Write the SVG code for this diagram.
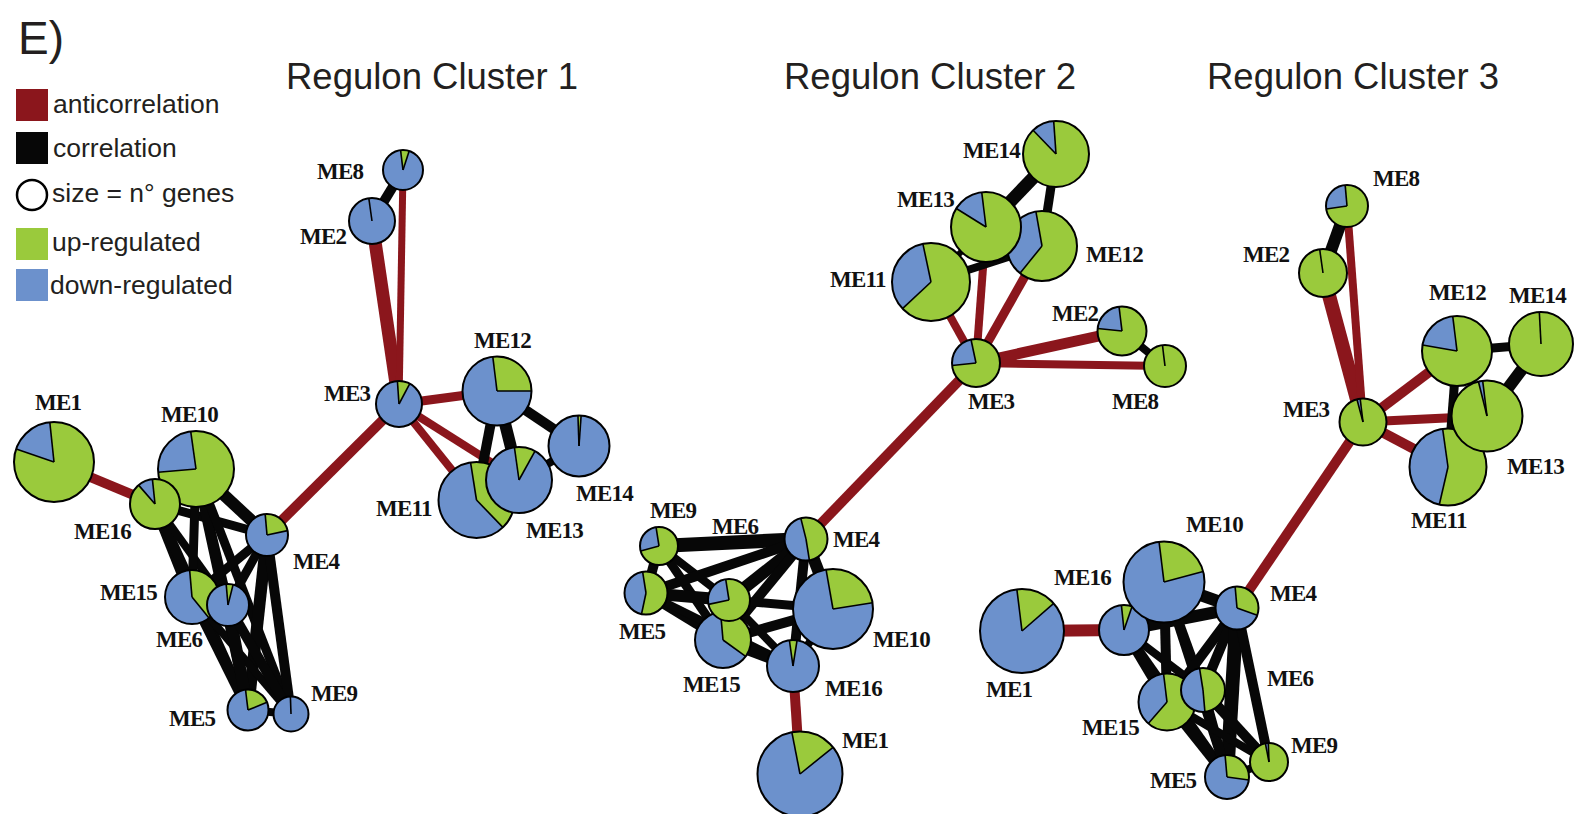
<svg xmlns="http://www.w3.org/2000/svg" width="1576" height="814" viewBox="0 0 1576 814">
<style>
.bg{fill:#fff}
.up{fill:#9ACA3C}
.dn{fill:#6C91CC}
.sl{fill:none}
.sl.up{stroke:#9ACA3C}
.sl.dn{stroke:#6C91CC}
.rad{fill:none;stroke:#000;stroke-width:1.6}
.rim{fill:none;stroke:#000;stroke-width:2}
.neg{stroke:#8B161C;stroke-linecap:butt}
.pos{stroke:#070707;stroke-linecap:butt}
.lbl{font-family:"Liberation Serif","Times New Roman",serif;font-weight:bold;font-size:23px;letter-spacing:-0.8px;fill:#111}
.ttl{font-family:"Liberation Sans",Arial,sans-serif;font-size:36.5px;fill:#231F20}
.leg{font-family:"Liberation Sans",Arial,sans-serif;font-size:26.5px;fill:#231F20}
</style>
<rect class="bg" width="1576" height="814"/>

<!-- panel letter, titles and legend -->
<g id="header">
<text x="18" y="54" style="font-family:'Liberation Sans',Arial,sans-serif;font-size:46px;fill:#231F20">E)</text>
<text class="ttl" x="286" y="89">Regulon Cluster 1</text>
<text class="ttl" x="784" y="89">Regulon Cluster 2</text>
<text class="ttl" x="1207" y="89">Regulon Cluster 3</text>
</g>
<g id="legend">
<rect x="16" y="89" width="32" height="32" fill="#8B161C"/>
<text class="leg" x="53" y="113">anticorrelation</text>
<rect x="16" y="132" width="32" height="32" fill="#070707"/>
<text class="leg" x="53" y="157">correlation</text>
<circle cx="32" cy="195" r="15" fill="none" stroke="#000" stroke-width="2.5"/>
<text class="leg" x="52" y="202">size = n° genes</text>
<rect x="16" y="228" width="32" height="32" class="up"/>
<text class="leg" x="52" y="251">up-regulated</text>
<rect x="16" y="269" width="32" height="32" class="dn"/>
<text class="leg" x="50" y="294">down-regulated</text>
</g>

<!-- connectors: red = anticorrelation, black = correlation -->
<g id="connectors">
<!-- cluster 1 -->
<line class="neg" x1="54" y1="462" x2="155" y2="504" stroke-width="10"/>
<line class="neg" x1="399" y1="404" x2="267" y2="535" stroke-width="10"/>
<line class="neg" x1="399" y1="404" x2="372" y2="221" stroke-width="13"/>
<line class="neg" x1="399" y1="404" x2="403" y2="170" stroke-width="7"/>
<line class="neg" x1="399" y1="404" x2="497" y2="391" stroke-width="9"/>
<line class="neg" x1="399" y1="404" x2="476" y2="500" stroke-width="8"/>
<line class="neg" x1="399" y1="404" x2="519" y2="480" stroke-width="8"/>
<line class="pos" x1="403" y1="170" x2="372" y2="221" stroke-width="10"/>
<line class="pos" x1="497" y1="391" x2="476" y2="500" stroke-width="10"/>
<line class="pos" x1="497" y1="391" x2="519" y2="480" stroke-width="12"/>
<line class="pos" x1="497" y1="391" x2="579" y2="446" stroke-width="10"/>
<line class="pos" x1="519" y1="480" x2="579" y2="446" stroke-width="8"/>
<line class="pos" x1="196" y1="469" x2="155" y2="504" stroke-width="10"/>
<line class="pos" x1="196" y1="469" x2="267" y2="535" stroke-width="12"/>
<line class="pos" x1="155" y1="504" x2="267" y2="535" stroke-width="9"/>
<line class="pos" x1="155" y1="504" x2="192" y2="597" stroke-width="12"/>
<line class="pos" x1="155" y1="504" x2="248" y2="710" stroke-width="10"/>
<line class="pos" x1="155" y1="504" x2="228" y2="605" stroke-width="8"/>
<line class="pos" x1="196" y1="469" x2="192" y2="597" stroke-width="9"/>
<line class="pos" x1="196" y1="469" x2="228" y2="605" stroke-width="10"/>
<line class="pos" x1="196" y1="469" x2="248" y2="710" stroke-width="10"/>
<line class="pos" x1="196" y1="469" x2="291" y2="714" stroke-width="9"/>
<line class="pos" x1="267" y1="535" x2="192" y2="597" stroke-width="9"/>
<line class="pos" x1="267" y1="535" x2="228" y2="605" stroke-width="9"/>
<line class="pos" x1="267" y1="535" x2="248" y2="710" stroke-width="12"/>
<line class="pos" x1="267" y1="535" x2="291" y2="714" stroke-width="10"/>
<line class="pos" x1="192" y1="597" x2="248" y2="710" stroke-width="10"/>
<line class="pos" x1="192" y1="597" x2="291" y2="714" stroke-width="8"/>
<line class="pos" x1="228" y1="605" x2="248" y2="710" stroke-width="12"/>
<line class="pos" x1="228" y1="605" x2="291" y2="714" stroke-width="10"/>
<line class="pos" x1="248" y1="710" x2="291" y2="714" stroke-width="8"/>
<!-- cluster 2 -->
<line class="neg" x1="976" y1="363" x2="806" y2="539" stroke-width="10"/>
<line class="neg" x1="976" y1="363" x2="931" y2="282" stroke-width="8"/>
<line class="neg" x1="976" y1="363" x2="986" y2="227" stroke-width="8"/>
<line class="neg" x1="976" y1="363" x2="1042" y2="246" stroke-width="9"/>
<line class="neg" x1="976" y1="363" x2="1122" y2="331" stroke-width="11"/>
<line class="neg" x1="976" y1="363" x2="1165" y2="366" stroke-width="8"/>
<line class="neg" x1="793" y1="666" x2="800" y2="774" stroke-width="10"/>
<line class="pos" x1="1056" y1="154" x2="986" y2="227" stroke-width="13"/>
<line class="pos" x1="1056" y1="154" x2="1042" y2="246" stroke-width="9"/>
<line class="pos" x1="931" y1="282" x2="1042" y2="246" stroke-width="8"/>
<line class="pos" x1="931" y1="282" x2="986" y2="227" stroke-width="6"/>
<line class="pos" x1="986" y1="227" x2="1042" y2="246" stroke-width="8"/>
<line class="pos" x1="1122" y1="331" x2="1165" y2="366" stroke-width="8"/>
<line class="pos" x1="659" y1="546" x2="806" y2="539" stroke-width="14"/>
<line class="pos" x1="659" y1="546" x2="646" y2="593" stroke-width="10"/>
<line class="pos" x1="659" y1="546" x2="723" y2="640" stroke-width="9"/>
<line class="pos" x1="659" y1="546" x2="729" y2="600" stroke-width="8"/>
<line class="pos" x1="646" y1="593" x2="806" y2="539" stroke-width="10"/>
<line class="pos" x1="646" y1="593" x2="729" y2="600" stroke-width="12"/>
<line class="pos" x1="646" y1="593" x2="723" y2="640" stroke-width="10"/>
<line class="pos" x1="646" y1="593" x2="793" y2="666" stroke-width="8"/>
<line class="pos" x1="729" y1="600" x2="806" y2="539" stroke-width="12"/>
<line class="pos" x1="723" y1="640" x2="806" y2="539" stroke-width="10"/>
<line class="pos" x1="729" y1="600" x2="833" y2="609" stroke-width="9"/>
<line class="pos" x1="723" y1="640" x2="833" y2="609" stroke-width="10"/>
<line class="pos" x1="723" y1="640" x2="793" y2="666" stroke-width="12"/>
<line class="pos" x1="793" y1="666" x2="806" y2="539" stroke-width="10"/>
<line class="pos" x1="833" y1="609" x2="806" y2="539" stroke-width="12"/>
<line class="pos" x1="729" y1="600" x2="793" y2="666" stroke-width="8"/>
<line class="pos" x1="793" y1="666" x2="833" y2="609" stroke-width="8"/>
<!-- cluster 3 -->
<line class="neg" x1="1363" y1="422" x2="1237" y2="608" stroke-width="10"/>
<line class="neg" x1="1363" y1="422" x2="1323" y2="273" stroke-width="14"/>
<line class="neg" x1="1363" y1="422" x2="1347" y2="206" stroke-width="8"/>
<line class="neg" x1="1363" y1="422" x2="1457" y2="351" stroke-width="10"/>
<line class="neg" x1="1363" y1="422" x2="1487" y2="416" stroke-width="9"/>
<line class="neg" x1="1363" y1="422" x2="1448" y2="467" stroke-width="10"/>
<line class="neg" x1="1022" y1="631" x2="1124" y2="630" stroke-width="12"/>
<line class="pos" x1="1347" y1="206" x2="1323" y2="273" stroke-width="12"/>
<line class="pos" x1="1457" y1="351" x2="1541" y2="344" stroke-width="9"/>
<line class="pos" x1="1487" y1="416" x2="1541" y2="344" stroke-width="12"/>
<line class="pos" x1="1457" y1="351" x2="1448" y2="467" stroke-width="9"/>
<line class="pos" x1="1457" y1="351" x2="1487" y2="416" stroke-width="8"/>
<line class="pos" x1="1164" y1="582" x2="1237" y2="608" stroke-width="12"/>
<line class="pos" x1="1124" y1="630" x2="1237" y2="608" stroke-width="12"/>
<line class="pos" x1="1124" y1="630" x2="1164" y2="582" stroke-width="8"/>
<line class="pos" x1="1124" y1="630" x2="1167" y2="702" stroke-width="10"/>
<line class="pos" x1="1124" y1="630" x2="1227" y2="777" stroke-width="10"/>
<line class="pos" x1="1124" y1="630" x2="1203" y2="690" stroke-width="8"/>
<line class="pos" x1="1164" y1="582" x2="1167" y2="702" stroke-width="10"/>
<line class="pos" x1="1164" y1="582" x2="1203" y2="690" stroke-width="10"/>
<line class="pos" x1="1164" y1="582" x2="1227" y2="777" stroke-width="8"/>
<line class="pos" x1="1237" y1="608" x2="1167" y2="702" stroke-width="10"/>
<line class="pos" x1="1237" y1="608" x2="1203" y2="690" stroke-width="10"/>
<line class="pos" x1="1237" y1="608" x2="1227" y2="777" stroke-width="14"/>
<line class="pos" x1="1237" y1="608" x2="1269" y2="762" stroke-width="10"/>
<line class="pos" x1="1167" y1="702" x2="1227" y2="777" stroke-width="10"/>
<line class="pos" x1="1203" y1="690" x2="1227" y2="777" stroke-width="10"/>
<line class="pos" x1="1203" y1="690" x2="1269" y2="762" stroke-width="10"/>
<line class="pos" x1="1167" y1="702" x2="1269" y2="762" stroke-width="8"/>
<line class="pos" x1="1227" y1="777" x2="1269" y2="762" stroke-width="8"/>
</g>

<!-- cluster 1 nodes -->
<g id="c1-me1"><g transform="translate(54 462)"><circle r="40" class="up"/><circle r="20" class="sl dn" stroke-width="40" pathLength="360" stroke-dasharray="65 400" transform="rotate(-161)"/><path class="rad" d="M0 0H40" transform="rotate(-161)"/><path class="rad" d="M0 0H40" transform="rotate(-96)"/><circle r="40" class="rim"/></g><text class="lbl" x="35" y="410">ME1</text></g>
<g id="c1-me10"><g transform="translate(196 469)"><circle r="38" class="up"/><circle r="19" class="sl dn" stroke-width="38" pathLength="360" stroke-dasharray="87 400" transform="rotate(175)"/><path class="rad" d="M0 0H38" transform="rotate(175)"/><path class="rad" d="M0 0H38" transform="rotate(262)"/><circle r="38" class="rim"/></g><text class="lbl" x="161" y="422">ME10</text></g>
<g id="c1-me16"><g transform="translate(155 504)"><circle r="25" class="up"/><circle r="12.5" class="sl dn" stroke-width="25" pathLength="360" stroke-dasharray="35 400" transform="rotate(-131)"/><path class="rad" d="M0 0H25" transform="rotate(-131)"/><path class="rad" d="M0 0H25" transform="rotate(-96)"/><circle r="25" class="rim"/></g><text class="lbl" x="74" y="539">ME16</text></g>
<g id="c1-me4"><g transform="translate(267 535)"><circle r="21" class="dn"/><circle r="10.5" class="sl up" stroke-width="21" pathLength="360" stroke-dasharray="83 400" transform="rotate(-95)"/><path class="rad" d="M0 0H21" transform="rotate(-95)"/><path class="rad" d="M0 0H21" transform="rotate(-12)"/><circle r="21" class="rim"/></g><text class="lbl" x="293" y="569">ME4</text></g>
<g id="c1-me15"><g transform="translate(192 597)"><circle r="27" class="dn"/><circle r="13.5" class="sl up" stroke-width="27" pathLength="360" stroke-dasharray="146 400" transform="rotate(-95)"/><path class="rad" d="M0 0H27" transform="rotate(-95)"/><path class="rad" d="M0 0H27" transform="rotate(51)"/><circle r="27" class="rim"/></g><text class="lbl" x="100" y="600">ME15</text></g>
<g id="c1-me6"><g transform="translate(228 605)"><circle r="21" class="dn"/><circle r="10.5" class="sl up" stroke-width="21" pathLength="360" stroke-dasharray="19 400" transform="rotate(-95)"/><path class="rad" d="M0 0H21" transform="rotate(-95)"/><path class="rad" d="M0 0H21" transform="rotate(-76)"/><circle r="21" class="rim"/></g><text class="lbl" x="156" y="647">ME6</text></g>
<g id="c1-me5"><g transform="translate(248 710)"><circle r="20.5" class="dn"/><circle r="10.25" class="sl up" stroke-width="20.5" pathLength="360" stroke-dasharray="75 400" transform="rotate(-97)"/><path class="rad" d="M0 0H20.5" transform="rotate(-97)"/><path class="rad" d="M0 0H20.5" transform="rotate(-22)"/><circle r="20.5" class="rim"/></g><text class="lbl" x="169" y="726">ME5</text></g>
<g id="c1-me9"><g transform="translate(291 714)"><circle r="17.5" class="dn"/><path class="rad" d="M0 0H17.5" transform="rotate(-92)"/><circle r="17.5" class="rim"/></g><text class="lbl" x="311" y="701">ME9</text></g>
<g id="c1-me8"><g transform="translate(403 170)"><circle r="20" class="dn"/><circle r="10" class="sl up" stroke-width="20" pathLength="360" stroke-dasharray="25 400" transform="rotate(-97)"/><path class="rad" d="M0 0H20" transform="rotate(-97)"/><path class="rad" d="M0 0H20" transform="rotate(-72)"/><circle r="20" class="rim"/></g><text class="lbl" x="317" y="179">ME8</text></g>
<g id="c1-me2"><g transform="translate(372 221)"><circle r="23" class="dn"/><path class="rad" d="M0 0H23" transform="rotate(-98)"/><circle r="23" class="rim"/></g><text class="lbl" x="300" y="244">ME2</text></g>
<g id="c1-me3"><g transform="translate(399 404)"><circle r="23" class="dn"/><circle r="11.5" class="sl up" stroke-width="23" pathLength="360" stroke-dasharray="32 400" transform="rotate(-94)"/><path class="rad" d="M0 0H23" transform="rotate(-94)"/><path class="rad" d="M0 0H23" transform="rotate(-62)"/><circle r="23" class="rim"/></g><text class="lbl" x="324" y="401">ME3</text></g>
<g id="c1-me12"><g transform="translate(497 391)"><circle r="34.5" class="dn"/><circle r="17.25" class="sl up" stroke-width="34.5" pathLength="360" stroke-dasharray="97 400" transform="rotate(-97)"/><path class="rad" d="M0 0H34.5" transform="rotate(-97)"/><path class="rad" d="M0 0H34.5"/><circle r="34.5" class="rim"/></g><text class="lbl" x="474" y="348">ME12</text></g>
<g id="c1-me14"><g transform="translate(579 446)"><circle r="30.5" class="dn"/><circle r="15.25" class="sl up" stroke-width="30.5" pathLength="360" stroke-dasharray="6 400" transform="rotate(-92)"/><path class="rad" d="M0 0H30.5" transform="rotate(-92)"/><path class="rad" d="M0 0H30.5" transform="rotate(-86)"/><circle r="30.5" class="rim"/></g><text class="lbl" x="576" y="501">ME14</text></g>
<g id="c1-me11"><g transform="translate(476.5 500)"><circle r="38" class="dn"/><circle r="19" class="sl up" stroke-width="38" pathLength="360" stroke-dasharray="145 400" transform="rotate(-99)"/><path class="rad" d="M0 0H38" transform="rotate(-99)"/><path class="rad" d="M0 0H38" transform="rotate(46)"/><circle r="38" class="rim"/></g><text class="lbl" x="376" y="516">ME11</text></g>
<g id="c1-me13"><g transform="translate(519 480)"><circle r="33" class="dn"/><circle r="16.5" class="sl up" stroke-width="33" pathLength="360" stroke-dasharray="37 400" transform="rotate(-98)"/><path class="rad" d="M0 0H33" transform="rotate(-98)"/><path class="rad" d="M0 0H33" transform="rotate(-61)"/><circle r="33" class="rim"/></g><text class="lbl" x="526" y="538">ME13</text></g>

<!-- cluster 2 nodes -->
<g id="c2-me14"><g transform="translate(1056 154)"><circle r="33" class="up"/><circle r="16.5" class="sl dn" stroke-width="33" pathLength="360" stroke-dasharray="40 400" transform="rotate(-134)"/><path class="rad" d="M0 0H33" transform="rotate(-134)"/><path class="rad" d="M0 0H33" transform="rotate(-94)"/><circle r="33" class="rim"/></g><text class="lbl" x="963" y="158">ME14</text></g>
<g id="c2-me12"><g transform="translate(1042 246)"><circle r="35" class="up"/><circle r="17.5" class="sl dn" stroke-width="35" pathLength="360" stroke-dasharray="131 400" transform="rotate(129)"/><path class="rad" d="M0 0H35" transform="rotate(129)"/><path class="rad" d="M0 0H35" transform="rotate(260)"/><circle r="35" class="rim"/></g><text class="lbl" x="1086" y="262">ME12</text></g>
<g id="c2-me13"><g transform="translate(986 227)"><circle r="35" class="up"/><circle r="17.5" class="sl dn" stroke-width="35" pathLength="360" stroke-dasharray="51 400" transform="rotate(-148)"/><path class="rad" d="M0 0H35" transform="rotate(-148)"/><path class="rad" d="M0 0H35" transform="rotate(-97)"/><circle r="35" class="rim"/></g><text class="lbl" x="897" y="207">ME13</text></g>
<g id="c2-me11"><g transform="translate(931 282)"><circle r="39" class="up"/><circle r="19.5" class="sl dn" stroke-width="39" pathLength="360" stroke-dasharray="121 400" transform="rotate(137)"/><path class="rad" d="M0 0H39" transform="rotate(137)"/><path class="rad" d="M0 0H39" transform="rotate(258)"/><circle r="39" class="rim"/></g><text class="lbl" x="830" y="287">ME11</text></g>
<g id="c2-me3"><g transform="translate(976 363)"><circle r="24" class="up"/><circle r="12" class="sl dn" stroke-width="24" pathLength="360" stroke-dasharray="84 400" transform="rotate(174)"/><path class="rad" d="M0 0H24" transform="rotate(174)"/><path class="rad" d="M0 0H24" transform="rotate(258)"/><circle r="24" class="rim"/></g><text class="lbl" x="968" y="409">ME3</text></g>
<g id="c2-me2"><g transform="translate(1122 331)"><circle r="24.5" class="up"/><circle r="12.25" class="sl dn" stroke-width="24.5" pathLength="360" stroke-dasharray="77 400" transform="rotate(186)"/><path class="rad" d="M0 0H24.5" transform="rotate(186)"/><path class="rad" d="M0 0H24.5" transform="rotate(263)"/><circle r="24.5" class="rim"/></g><text class="lbl" x="1052" y="321">ME2</text></g>
<g id="c2-me8"><g transform="translate(1165 366)"><circle r="21" class="up"/><path class="rad" d="M0 0H21" transform="rotate(-97)"/><circle r="21" class="rim"/></g><text class="lbl" x="1112" y="409">ME8</text></g>
<g id="c2-me4"><g transform="translate(806 539)"><circle r="21.5" class="dn"/><circle r="10.75" class="sl up" stroke-width="21.5" pathLength="360" stroke-dasharray="185 400" transform="rotate(-104)"/><path class="rad" d="M0 0H21.5" transform="rotate(-104)"/><path class="rad" d="M0 0H21.5" transform="rotate(81)"/><circle r="21.5" class="rim"/></g><text class="lbl" x="833" y="547">ME4</text></g>
<g id="c2-me9"><g transform="translate(659 546)"><circle r="19" class="up"/><circle r="9.5" class="sl dn" stroke-width="19" pathLength="360" stroke-dasharray="96 400" transform="rotate(165)"/><path class="rad" d="M0 0H19" transform="rotate(165)"/><path class="rad" d="M0 0H19" transform="rotate(261)"/><circle r="19" class="rim"/></g><text class="lbl" x="650" y="518">ME9</text></g>
<g id="c2-me5"><g transform="translate(646 593)"><circle r="21.5" class="up"/><circle r="10.75" class="sl dn" stroke-width="21.5" pathLength="360" stroke-dasharray="159 400" transform="rotate(102)"/><path class="rad" d="M0 0H21.5" transform="rotate(102)"/><path class="rad" d="M0 0H21.5" transform="rotate(261)"/><circle r="21.5" class="rim"/></g><text class="lbl" x="619" y="639">ME5</text></g>
<g id="c2-me15"><g transform="translate(723 640)"><circle r="28" class="dn"/><circle r="14" class="sl up" stroke-width="28" pathLength="360" stroke-dasharray="131 400" transform="rotate(-95)"/><path class="rad" d="M0 0H28" transform="rotate(-95)"/><path class="rad" d="M0 0H28" transform="rotate(36)"/><circle r="28" class="rim"/></g><text class="lbl" x="683" y="692">ME15</text></g>
<g id="c2-me6"><g transform="translate(729 600)"><circle r="21" class="up"/><circle r="10.5" class="sl dn" stroke-width="21" pathLength="360" stroke-dasharray="93 400" transform="rotate(168)"/><path class="rad" d="M0 0H21" transform="rotate(168)"/><path class="rad" d="M0 0H21" transform="rotate(261)"/><circle r="21" class="rim"/></g><text class="lbl" x="712" y="534">ME6</text></g>
<g id="c2-me10"><g transform="translate(833 609)"><circle r="40" class="dn"/><circle r="20" class="sl up" stroke-width="40" pathLength="360" stroke-dasharray="91 400" transform="rotate(-100)"/><path class="rad" d="M0 0H40" transform="rotate(-100)"/><path class="rad" d="M0 0H40" transform="rotate(-9)"/><circle r="40" class="rim"/></g><text class="lbl" x="873" y="647">ME10</text></g>
<g id="c2-me16"><g transform="translate(793 666)"><circle r="26" class="dn"/><circle r="13" class="sl up" stroke-width="26" pathLength="360" stroke-dasharray="17 400" transform="rotate(-98)"/><path class="rad" d="M0 0H26" transform="rotate(-98)"/><path class="rad" d="M0 0H26" transform="rotate(-81)"/><circle r="26" class="rim"/></g><text class="lbl" x="825" y="696">ME16</text></g>
<g id="c2-me1"><g transform="translate(800 774)"><circle r="42.5" class="dn"/><circle r="21.25" class="sl up" stroke-width="42.5" pathLength="360" stroke-dasharray="62 400" transform="rotate(-101)"/><path class="rad" d="M0 0H42.5" transform="rotate(-101)"/><path class="rad" d="M0 0H42.5" transform="rotate(-39)"/><circle r="42.5" class="rim"/></g><text class="lbl" x="842" y="748">ME1</text></g>

<!-- cluster 3 nodes -->
<g id="c3-me8"><g transform="translate(1347 206)"><circle r="21" class="up"/><circle r="10.5" class="sl dn" stroke-width="21" pathLength="360" stroke-dasharray="93 400" transform="rotate(172)"/><path class="rad" d="M0 0H21" transform="rotate(172)"/><path class="rad" d="M0 0H21" transform="rotate(265)"/><circle r="21" class="rim"/></g><text class="lbl" x="1373" y="186">ME8</text></g>
<g id="c3-me2"><g transform="translate(1323 273)"><circle r="24" class="up"/><path class="rad" d="M0 0H24" transform="rotate(-98)"/><circle r="24" class="rim"/></g><text class="lbl" x="1243" y="262">ME2</text></g>
<g id="c3-me3"><g transform="translate(1363 422)"><circle r="23.5" class="up"/><circle r="11.75" class="sl dn" stroke-width="23.5" pathLength="360" stroke-dasharray="8 400" transform="rotate(-105)"/><path class="rad" d="M0 0H23.5" transform="rotate(-105)"/><path class="rad" d="M0 0H23.5" transform="rotate(-97)"/><circle r="23.5" class="rim"/></g><text class="lbl" x="1283" y="417">ME3</text></g>
<g id="c3-me12"><g transform="translate(1457 351)"><circle r="35" class="up"/><circle r="17.5" class="sl dn" stroke-width="35" pathLength="360" stroke-dasharray="73 400" transform="rotate(190)"/><path class="rad" d="M0 0H35" transform="rotate(190)"/><path class="rad" d="M0 0H35" transform="rotate(263)"/><circle r="35" class="rim"/></g><text class="lbl" x="1429" y="300">ME12</text></g>
<g id="c3-me14"><g transform="translate(1541 344)"><circle r="32" class="up"/><path class="rad" d="M0 0H32" transform="rotate(-93)"/><circle r="32" class="rim"/></g><text class="lbl" x="1509" y="303">ME14</text></g>
<g id="c3-me11"><g transform="translate(1448 467)"><circle r="38.5" class="up"/><circle r="19.25" class="sl dn" stroke-width="38.5" pathLength="360" stroke-dasharray="159 400" transform="rotate(103)"/><path class="rad" d="M0 0H38.5" transform="rotate(103)"/><path class="rad" d="M0 0H38.5" transform="rotate(262)"/><circle r="38.5" class="rim"/></g><text class="lbl" x="1411" y="528">ME11</text></g>
<g id="c3-me13"><g transform="translate(1487 416)"><circle r="35.5" class="up"/><circle r="17.75" class="sl dn" stroke-width="35.5" pathLength="360" stroke-dasharray="7 400" transform="rotate(-104)"/><path class="rad" d="M0 0H35.5" transform="rotate(-104)"/><path class="rad" d="M0 0H35.5" transform="rotate(-97)"/><circle r="35.5" class="rim"/></g><text class="lbl" x="1507" y="474">ME13</text></g>
<g id="c3-me1"><g transform="translate(1022 631)"><circle r="42" class="dn"/><circle r="21" class="sl up" stroke-width="42" pathLength="360" stroke-dasharray="56 400" transform="rotate(-97)"/><path class="rad" d="M0 0H42" transform="rotate(-97)"/><path class="rad" d="M0 0H42" transform="rotate(-41)"/><circle r="42" class="rim"/></g><text class="lbl" x="986" y="697">ME1</text></g>
<g id="c3-me16"><g transform="translate(1124 630)"><circle r="25" class="dn"/><circle r="12.5" class="sl up" stroke-width="25" pathLength="360" stroke-dasharray="25 400" transform="rotate(-96)"/><path class="rad" d="M0 0H25" transform="rotate(-96)"/><path class="rad" d="M0 0H25" transform="rotate(-71)"/><circle r="25" class="rim"/></g><text class="lbl" x="1054" y="585">ME16</text></g>
<g id="c3-me10"><g transform="translate(1164 582)"><circle r="40.5" class="dn"/><circle r="20.25" class="sl up" stroke-width="40.5" pathLength="360" stroke-dasharray="82 400" transform="rotate(-97)"/><path class="rad" d="M0 0H40.5" transform="rotate(-97)"/><path class="rad" d="M0 0H40.5" transform="rotate(-15)"/><circle r="40.5" class="rim"/></g><text class="lbl" x="1186" y="532">ME10</text></g>
<g id="c3-me4"><g transform="translate(1237 608)"><circle r="21.5" class="dn"/><circle r="10.75" class="sl up" stroke-width="21.5" pathLength="360" stroke-dasharray="115 400" transform="rotate(-95)"/><path class="rad" d="M0 0H21.5" transform="rotate(-95)"/><path class="rad" d="M0 0H21.5" transform="rotate(20)"/><circle r="21.5" class="rim"/></g><text class="lbl" x="1270" y="601">ME4</text></g>
<g id="c3-me15"><g transform="translate(1167 702)"><circle r="28.5" class="up"/><circle r="14.25" class="sl dn" stroke-width="28.5" pathLength="360" stroke-dasharray="132 400" transform="rotate(131)"/><path class="rad" d="M0 0H28.5" transform="rotate(131)"/><path class="rad" d="M0 0H28.5" transform="rotate(263)"/><circle r="28.5" class="rim"/></g><text class="lbl" x="1082" y="735">ME15</text></g>
<g id="c3-me6"><g transform="translate(1203 690)"><circle r="22" class="up"/><circle r="11" class="sl dn" stroke-width="22" pathLength="360" stroke-dasharray="176 400" transform="rotate(85)"/><path class="rad" d="M0 0H22" transform="rotate(85)"/><path class="rad" d="M0 0H22" transform="rotate(261)"/><circle r="22" class="rim"/></g><text class="lbl" x="1267" y="686">ME6</text></g>
<g id="c3-me5"><g transform="translate(1227 777)"><circle r="22" class="dn"/><circle r="11" class="sl up" stroke-width="22" pathLength="360" stroke-dasharray="103 400" transform="rotate(-95)"/><path class="rad" d="M0 0H22" transform="rotate(-95)"/><path class="rad" d="M0 0H22" transform="rotate(8)"/><circle r="22" class="rim"/></g><text class="lbl" x="1150" y="788">ME5</text></g>
<g id="c3-me9"><g transform="translate(1269 762)"><circle r="19" class="up"/><circle r="9.5" class="sl dn" stroke-width="19" pathLength="360" stroke-dasharray="9 400" transform="rotate(-101)"/><path class="rad" d="M0 0H19" transform="rotate(-101)"/><path class="rad" d="M0 0H19" transform="rotate(-92)"/><circle r="19" class="rim"/></g><text class="lbl" x="1291" y="753">ME9</text></g>
</svg>
